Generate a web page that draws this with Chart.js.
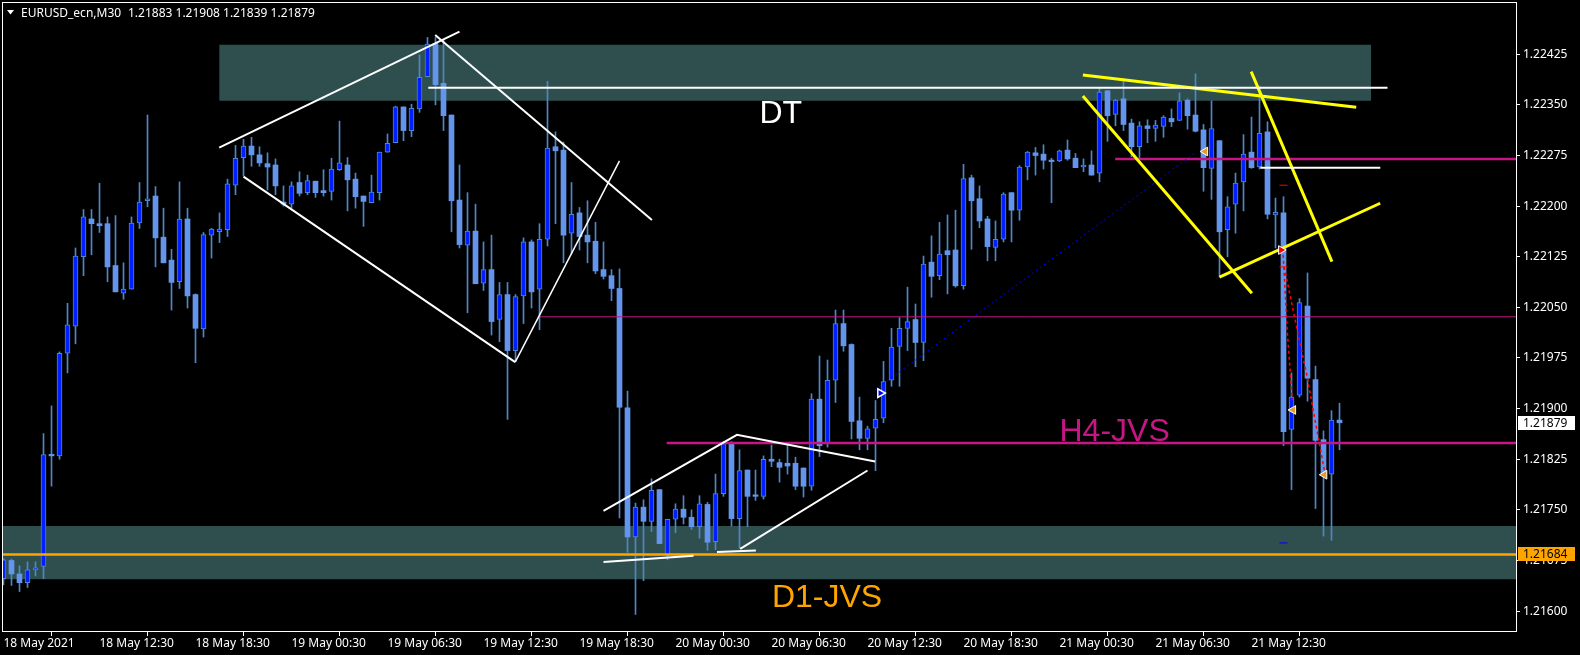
<!DOCTYPE html>
<html><head><meta charset="utf-8">
<script src="https://cdn.jsdelivr.net/npm/chart.js@4.4.1/dist/chart.umd.min.js"></script>
<style>html,body{margin:0;padding:0;background:#000;overflow:hidden}canvas{display:block;background:#000}</style>
</head><body>
<canvas id="c" width="1580" height="655"></canvas>
<script>
// ---------------- DATA (EURUSD_ecn, M30, bar index 0 = 18 May 2021 06:30) ----------------
const opens = [1.21648,1.21675,1.21655,1.21642,1.21661,1.21666,1.21832,1.21830,1.21982,1.22022,
1.22125,1.22181,1.22174,1.22174,1.22112,1.22071,1.22077,1.22175,1.22208,1.22215,
1.22154,1.22120,1.22088,1.22181,1.22069,1.22018,1.22157,1.22162,1.22165,1.22231,
1.22272,1.22289,1.22276,1.22263,1.22261,1.22206,1.22203,1.22235,1.22220,1.22237,
1.22223,1.22222,1.22254,1.22261,1.22240,1.22215,1.22205,1.22220,1.22280,1.22294,
1.22347,1.22312,1.22344,1.22392,1.22441,1.22382,1.22335,1.22209,1.22142,1.22163,
1.22086,1.22106,1.22032,1.22069,1.21986,1.22067,1.22147,1.22077,1.22151,1.22288,
1.22283,1.22160,1.22190,1.22157,1.22148,1.22106,1.22097,1.22078,1.21901,1.21710,
1.21754,1.21733,1.21780,1.21683,1.21736,1.21751,1.21739,1.21725,1.21758,1.21703,
1.21774,1.21850,1.21737,1.21809,1.21771,1.21770,1.21825,1.21820,1.21819,1.21819,
1.21812,1.21785,1.21914,1.21848,1.21942,1.22026,1.21995,1.21882,1.21856,1.21871,
1.21886,1.21942,1.21992,1.22019,1.22032,1.21998,1.22117,1.22097,1.22134,1.22135,
1.22082,1.22242,1.22211,1.22181,1.22139,1.22151,1.22220,1.22194,1.22258,1.22279,
1.22277,1.22268,1.22267,1.22283,1.22271,1.22258,1.22261,1.22249,1.22371,1.22336,
1.22359,1.22323,1.22288,1.22319,1.22315,1.22318,1.22330,1.22327,1.22357,1.22335,
1.22313,1.22256,1.22297,1.22165,1.22203,1.22236,1.22280,1.22258,1.22310,1.22187,
1.22190,1.21869,1.21920,1.22052,1.21943,1.21854,1.21803,1.21883];
const highs = [1.21678,1.21677,1.21667,1.21673,1.21673,1.21863,1.21904,1.21984,1.22056,1.22138,
1.22195,1.22195,1.22234,1.22184,1.22186,1.22116,1.22184,1.22235,1.22335,1.22229,
1.22197,1.22136,1.22236,1.22197,1.22070,1.22161,1.22167,1.22190,1.22240,1.22290,
1.22299,1.22302,1.22288,1.22279,1.22270,1.22230,1.22236,1.22251,1.22246,1.22237,
1.22254,1.22271,1.22326,1.22272,1.22249,1.22215,1.22246,1.22280,1.22307,1.22348,
1.22347,1.22351,1.22424,1.22450,1.22450,1.22446,1.22335,1.22261,1.22220,1.22203,
1.22147,1.22157,1.22087,1.22087,1.22069,1.22153,1.22150,1.22174,1.22385,1.22310,
1.22295,1.22235,1.22198,1.22208,1.22176,1.22147,1.22106,1.22107,1.21926,1.21760,
1.21765,1.21796,1.21780,1.21736,1.21759,1.21771,1.21750,1.21771,1.21761,1.21803,
1.21851,1.21851,1.21839,1.21809,1.21809,1.21830,1.21846,1.21825,1.21846,1.21828,
1.21812,1.21922,1.21978,1.21972,1.22046,1.22046,1.21996,1.21917,1.21874,1.21912,
1.21970,1.22019,1.22035,1.22080,1.22055,1.22126,1.22156,1.22176,1.22187,1.22194,
1.22262,1.22246,1.22230,1.22185,1.22178,1.22220,1.22220,1.22260,1.22281,1.22287,
1.22291,1.22271,1.22283,1.22298,1.22278,1.22270,1.22282,1.22375,1.22371,1.22358,
1.22389,1.22329,1.22325,1.22328,1.22327,1.22334,1.22344,1.22368,1.22359,1.22396,
1.22321,1.22356,1.22297,1.22214,1.22249,1.22306,1.22332,1.22378,1.22325,1.22212,
1.22214,1.21953,1.22063,1.22101,1.21963,1.21867,1.21897,1.21908];
const lows = [1.21639,1.21638,1.21629,1.21635,1.21652,1.21648,1.21785,1.21825,1.21953,1.21996,
1.22097,1.22128,1.22161,1.22088,1.22073,1.22062,1.22077,1.22167,1.22199,1.22110,
1.22116,1.22046,1.22078,1.22049,1.21968,1.22006,1.22123,1.22146,1.22155,1.22217,
1.22245,1.22259,1.22259,1.22224,1.22217,1.22200,1.22197,1.22215,1.22217,1.22213,
1.22215,1.22209,1.22253,1.22193,1.22197,1.22170,1.22205,1.22209,1.22280,1.22294,
1.22297,1.22303,1.22339,1.22392,1.22350,1.22312,1.22162,1.22138,1.22042,1.22085,
1.22075,1.22009,1.21999,1.21884,1.21970,1.22026,1.22049,1.22017,1.22141,1.22174,
1.22116,1.22130,1.22135,1.22116,1.22100,1.22092,1.22060,1.21738,1.21687,1.21595,
1.21645,1.21718,1.21700,1.21676,1.21716,1.21729,1.21721,1.21708,1.21690,1.21691,
1.21770,1.21726,1.21693,1.21725,1.21764,1.21766,1.21814,1.21791,1.21803,1.21780,
1.21769,1.21779,1.21829,1.21843,1.21909,1.21985,1.21855,1.21839,1.21839,1.21808,
1.21879,1.21933,1.21933,1.21986,1.21962,1.21971,1.22065,1.22091,1.22070,1.22080,
1.22077,1.22136,1.22168,1.22119,1.22119,1.22147,1.22147,1.22179,1.22239,1.22246,
1.22255,1.22205,1.22266,1.22268,1.22257,1.22251,1.22246,1.22236,1.22296,1.22319,
1.22312,1.22273,1.22271,1.22294,1.22296,1.22302,1.22318,1.22327,1.22314,1.22310,
1.22222,1.22210,1.22095,1.22125,1.22160,1.22193,1.22256,1.22255,1.22181,1.22138,
1.21845,1.21780,1.21917,1.21911,1.21752,1.21711,1.21705,1.21839];
const closes = [1.21676,1.21655,1.21642,1.21661,1.21664,1.21832,1.21830,1.21982,1.22024,1.22126,
1.22184,1.22174,1.22171,1.22110,1.22073,1.22077,1.22175,1.22206,1.22211,1.22153,
1.22116,1.22087,1.22181,1.22067,1.22019,1.22158,1.22166,1.22166,1.22233,1.22271,
1.22289,1.22276,1.22264,1.22258,1.22230,1.22203,1.22230,1.22219,1.22238,1.22220,
1.22220,1.22255,1.22264,1.22239,1.22214,1.22207,1.22221,1.22280,1.22293,1.22347,
1.22312,1.22345,1.22391,1.22440,1.22380,1.22334,1.22208,1.22143,1.22163,1.22085,
1.22106,1.22029,1.22069,1.21986,1.22066,1.22147,1.22073,1.22151,1.22286,1.22282,
1.22157,1.22188,1.22155,1.22147,1.22104,1.22096,1.22078,1.21902,1.21710,1.21754,
1.21733,1.21779,1.21700,1.21736,1.21751,1.21739,1.21725,1.21759,1.21702,1.21774,
1.21848,1.21737,1.21808,1.21770,1.21770,1.21825,1.21822,1.21813,1.21815,1.21785,
1.21785,1.21914,1.21845,1.21942,1.22026,1.21993,1.21881,1.21856,1.21870,1.21884,
1.21940,1.21991,1.22019,1.22029,1.21998,1.22114,1.22096,1.22129,1.22128,1.22082,
1.22241,1.22208,1.22178,1.22140,1.22151,1.22218,1.22194,1.22258,1.22280,1.22275,
1.22268,1.22266,1.22282,1.22270,1.22257,1.22261,1.22246,1.22369,1.22334,1.22357,
1.22321,1.22288,1.22319,1.22315,1.22320,1.22332,1.22325,1.22356,1.22334,1.22311,
1.22257,1.22315,1.22162,1.22199,1.22234,1.22277,1.22257,1.22308,1.22188,1.22191,
1.21866,1.21917,1.22057,1.21945,1.21853,1.21803,1.21883,1.21879];

// axis ticks
const xTickBars = [0,12,24,36,48,60,72,84,96,108,120,132,144,156];
const xTickLabels = ['18 May 2021','18 May 12:30','18 May 18:30','19 May 00:30','19 May 06:30','19 May 12:30',
  '19 May 18:30','20 May 00:30','20 May 06:30','20 May 12:30','20 May 18:30','21 May 00:30','21 May 06:30','21 May 12:30'];
const priceTickLabels = ['1.22425','1.22350','1.22275','1.22200','1.22125','1.22050','1.21975','1.21900','1.21825','1.21750','1.21675','1.21600'];

// drawn objects (anchors in bar index / price)
const zoneTop = [26.96, 170.96, 1.22439, 1.22356];      // x0, x1, priceTop, priceBottom
const zoneBottom = [-3, 195, 1.21726, 1.21647];
const levelD1 = [-3, 195, 1.21684];
const levelH4 = [82.9, 195, 1.21849];
const levelThin = [67.0, 195, 1.22036];
const levelMid = [138.96, 195, 1.22270];
const whiteLines = [
  [[26.96,1.222867],[57.0,1.224585]],
  [[30.0,1.222437],[63.96,1.219688]],
  [[53.96,1.224536],[81.05,1.221796]],
  [[75.0,1.217486],[91.68,1.218612],[108.96,1.218217]],
  [[75.0,1.216726],[86.25,1.216820]],
  [[89.18,1.216874],[94.05,1.216898]],
  [[92.09,1.216923],[108.0,1.218083]],
  [[53.1,1.223755],[173.0,1.223755]],
  [[157.1,1.22257],[172.1,1.22257]]
];
const whiteThinLines = [ [[63.96,1.219688],[77.0,1.222670]] ];
const yellowLines = [
  [[134.92,1.223943],[169.09,1.223465]],
  [[134.92,1.223632],[156.05,1.220710]],
  [[155.96,1.223992],[166.05,1.221178]],
  [[152.0,1.220947],[172.09,1.222043]]
];
const blueDotted = [[108.96,1.219278],[149.09,1.222803]];
const redPaths = [
  [[159.96,1.221278],[160.46,1.220167],[161.09,1.219130]],
  [[160.09,1.221100],[161.71,1.220167],[162.96,1.219471],[163.71,1.218982],[165.21,1.218017]]
];
const orangeMarks = [[150.2,1.22281],[161.2,1.21898],[165.1,1.21802]];
const blueArrowMark = [[109.6,1.21923]];
const redArrowMark = [[159.7,1.22135]];
const redDashMarks = [[160.0,1.22231],[160.0,1.22110]];
const blueDashMarks = [[160.0,1.21701]];
const chartTexts = ['DT','H4-JVS','D1-JVS'];
const textAnchors = [[94.5,1.223237],[132.0,1.218527],[96.05,1.21606]];
const symbolTitle = 'EURUSD_ecn,M30';
const lastBar = [1.21883,1.21908,1.21839,1.21879];
const priceTags = [1.21879, 1.21684];

// ---------------- STYLE ----------------
const FONT = '"Noto Sans","DejaVu Sans",sans-serif';
const BULL = '#0020FF', BULL_BORDER = '#4F86CF', BEAR = '#6495ED', WICK = '#4F86C6';
const ZONE = '#2F4F4F';
const textColors = ['#FFFFFF','#C71585','#FFA500'];
const tagColors = ['#FFFFFF','#FFA500'];

const pts = a => a.map(p => ({x:p[0], y:p[1]}));
function lineDs(points, color, width, dash, order){
  return {type:'line', data: pts(points), borderColor: color, borderWidth: width, borderDash: dash || [],
    pointRadius: 0, fill: false, tension: 0, order: order === undefined ? 1 : order, clip: 0, borderCapStyle:'butt'};
}
function zoneDs(z){
  return [
    {type:'line', data: pts([[z[0],z[2]],[z[1],z[2]]]), borderWidth:0, borderColor:'rgba(0,0,0,0)', pointRadius:0, backgroundColor: ZONE, fill:'+1', order:50, clip:0},
    {type:'line', data: pts([[z[0],z[3]],[z[1],z[3]]]), borderWidth:0, borderColor:'rgba(0,0,0,0)', pointRadius:0, fill:false, order:50, clip:0}
  ];
}
function levelDs(l, color, width){ return lineDs([[l[0],l[2]],[l[1],l[2]]], color, width, [], 2); }
function markDs(points, style, rot, radius, bg, border, bw){
  return {type:'line', data: pts(points), showLine:false, pointStyle: style, pointRotation: rot, pointRadius: radius,
    pointBackgroundColor: bg, pointBorderColor: border, pointBorderWidth: bw, order: 0, clip: 0};
}

const bull = opens.map((o,i) => closes[i] >= o);
const datasets = [];
datasets.push(...zoneDs(zoneTop), ...zoneDs(zoneBottom));
datasets.push({type:'bar', data: opens.map((o,i)=>({x:i, y:[lows[i], highs[i]]})), backgroundColor: WICK,
  barThickness: 1, grouped: false, order: 11, borderWidth: 0});
datasets.push({type:'bar', data: opens.map((o,i)=>({x:i, y:[o, closes[i]]})),
  backgroundColor: bull.map(b => b ? BULL : BEAR), borderColor: bull.map(b => b ? BULL_BORDER : BEAR),
  borderWidth: bull.map(b => b ? 1 : 0), borderSkipped: false, minBarLength: 1.5,
  barThickness: 5, grouped: false, order: 10});
datasets.push(levelDs(levelD1, '#FFA500', 2.5));
datasets.push(levelDs(levelH4, '#C71585', 2.5));
datasets.push(levelDs(levelThin, '#C71585', 1));
datasets.push(levelDs(levelMid, '#C71585', 2.5));
whiteLines.forEach(l => datasets.push(lineDs(l, '#FFFFFF', 2)));
whiteThinLines.forEach(l => datasets.push(lineDs(l, '#FFFFFF', 1.5)));
yellowLines.forEach(l => datasets.push(lineDs(l, '#FFFF00', 3)));
datasets.push(lineDs(blueDotted, '#0000FF', 1, [2,3]));
redPaths.forEach(l => datasets.push(lineDs(l, '#FF0000', 1.5, [3,3])));
datasets.push(markDs(orangeMarks, 'triangle', -90, 5, '#E39B2B', '#FFFFFF', 1));
datasets.push(markDs(blueArrowMark, 'triangle', 90, 5, '#0000FF', '#FFFFFF', 1.5));
datasets.push(markDs(redArrowMark, 'triangle', 90, 5, '#FF0000', '#FFFFFF', 1));
datasets.push(markDs(redDashMarks, 'line', 0, 4, '#FF0000', '#FF0000', 1));
datasets.push(markDs(blueDashMarks, 'line', 0, 4, '#0000FF', '#0000FF', 1));

const overlay = {
  id: 'overlay',
  afterDatasetsDraw(chart){
    const {ctx, chartArea: ca, scales: {x, y}} = chart;
    ctx.save();
    ctx.beginPath(); ctx.rect(ca.left, ca.top, ca.right - ca.left, ca.bottom - ca.top); ctx.clip();
    ctx.font = '32px "Liberation Sans", Arial, sans-serif';
    ctx.textBaseline = 'alphabetic'; ctx.textAlign = 'left';
    chartTexts.forEach((t, i) => {
      ctx.fillStyle = textColors[i];
      ctx.fillText(t, x.getPixelForValue(textAnchors[i][0]), y.getPixelForValue(textAnchors[i][1]));
    });
    ctx.restore();
  },
  afterDraw(chart){
    const {ctx, chartArea: ca, scales: {y}} = chart;
    ctx.save();
    // frame
    ctx.strokeStyle = '#FFFFFF'; ctx.lineWidth = 1;
    ctx.strokeRect(ca.left + 0.5, ca.top - 0.5, ca.right - ca.left - 1, ca.bottom - ca.top);
    // title
    ctx.fillStyle = '#FFFFFF';
    ctx.beginPath(); ctx.moveTo(7, 10); ctx.lineTo(14, 10); ctx.lineTo(10.5, 14.5); ctx.closePath(); ctx.fill();
    ctx.font = '12px ' + FONT; ctx.textBaseline = 'alphabetic'; ctx.textAlign = 'left';
    ctx.fillText(symbolTitle, 21, 17);
    ctx.fillText(lastBar.map(v => v.toFixed(5)).join(' '), 128, 17);
    // price tags
    priceTags.forEach((p, i) => {
      const py = Math.round(y.getPixelForValue(p));
      ctx.fillStyle = tagColors[i];
      ctx.fillRect(ca.right + 1, py - 7, 57, 14);
      ctx.fillStyle = '#000000'; ctx.textBaseline = 'middle';
      ctx.fillText(p.toFixed(5), ca.right + 6, py + 0.5);
    });
    ctx.restore();
  }
};

new Chart(document.getElementById('c'), {
  type: 'bar',
  data: { datasets },
  plugins: [overlay],
  options: {
    responsive: false, devicePixelRatio: 1, animation: false,
    layout: { autoPadding: false, padding: { left: 2, top: 3, right: 0, bottom: 0 } },
    plugins: { legend: { display: false }, tooltip: { enabled: false } },
    scales: {
      x: {
        type: 'linear', min: -0.1875, max: 189.1875, offset: false,
        afterBuildTicks: s => { s.ticks = xTickBars.map(v => ({value: v})); },
        afterFit: s => { s.height = 23; s.paddingLeft = 0; s.paddingRight = 0; },
        ticks: { autoSkip: false, maxRotation: 0, minRotation: 0, align: 'start', padding: 0,
          color: '#FFFFFF', font: { family: FONT, size: 12 }, callback: (v, i) => xTickLabels[i] },
        grid: { drawOnChartArea: false, drawTicks: true, tickLength: 4, color: '#FFFFFF' },
        border: { display: false }
      },
      y: {
        type: 'linear', position: 'right', min: 1.21569, max: 1.22501,
        afterBuildTicks: s => { s.ticks = priceTickLabels.map(v => ({value: parseFloat(v)})); },
        afterFit: s => { s.width = 63; s.paddingTop = 0; s.paddingBottom = 0; },
        ticks: { padding: 3, color: '#FFFFFF', font: { family: FONT, size: 12 }, callback: (v, i) => priceTickLabels[i] },
        grid: { drawOnChartArea: false, drawTicks: true, tickLength: 3, color: '#FFFFFF' },
        border: { display: false }
      }
    }
  }
});
</script>
</body></html>
